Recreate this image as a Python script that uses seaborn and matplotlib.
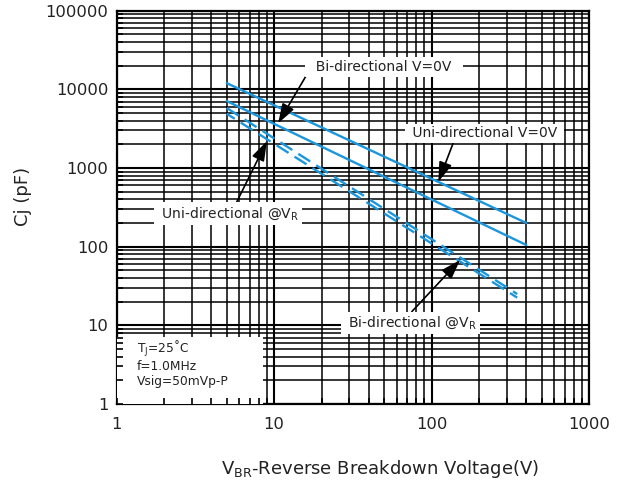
import numpy as np
import matplotlib
matplotlib.use("Agg")
import matplotlib.pyplot as plt
import seaborn as sns
from matplotlib.ticker import LogLocator, FixedLocator, FixedFormatter, NullFormatter
from matplotlib.patches import Rectangle

# ---- data ----
vbr_solid = [5, 400]
cj_uni_0v = [12000, 200]
cj_bi_0v = [7100, 105]
vbr_dashed = [5, 350]
cj_uni_vr = [5800, 25]
cj_bi_vr = [4900, 22.5]

x_ticks = [1, 10, 100, 1000]
x_tick_labels = ["1", "10", "100", "1000"]
y_ticks = [1, 10, 100, 1000, 10000, 100000]
y_tick_labels = ["1", "10", "100", "1000", "10000", "100000"]

line_color = "#1b96dc"
text_color = "#222222"

sns.set_theme(style="white")
plt.rcParams['font.family'] = ['DejaVu Sans']
plt.rcParams['mathtext.default'] = 'regular'

fig = plt.figure(figsize=(6.25, 4.8), dpi=100)
fig.patch.set_facecolor("white")
ax = fig.add_axes([0.1867, 0.1583, 0.7557, 0.8194])
ax.set_facecolor("white")
ax.set_xscale("log")
ax.set_yscale("log")

sns.lineplot(x=vbr_solid, y=cj_uni_0v, ax=ax, color=line_color, lw=1.7, zorder=3)
sns.lineplot(x=vbr_solid, y=cj_bi_0v, ax=ax, color=line_color, lw=1.7, zorder=3)
sns.lineplot(x=vbr_dashed, y=cj_uni_vr, ax=ax, color=line_color, lw=1.7,
             linestyle=(0, (6, 3)), zorder=3)
sns.lineplot(x=vbr_dashed, y=cj_bi_vr, ax=ax, color=line_color, lw=1.7,
             linestyle=(2, (6, 3)), zorder=3)

ax.set_xlim(1, 1000)
ax.set_ylim(1, 100000)
ax.xaxis.set_major_locator(FixedLocator(x_ticks))
ax.xaxis.set_major_formatter(FixedFormatter(x_tick_labels))
ax.yaxis.set_major_locator(FixedLocator(y_ticks))
ax.yaxis.set_major_formatter(FixedFormatter(y_tick_labels))
ax.xaxis.set_minor_locator(LogLocator(base=10, subs=np.arange(2, 10)))
ax.yaxis.set_minor_locator(LogLocator(base=10, subs=np.arange(2, 10)))
ax.xaxis.set_minor_formatter(NullFormatter())
ax.yaxis.set_minor_formatter(NullFormatter())
ax.set_axisbelow(True)
ax.grid(True, which="major", color="black", lw=1.5)
ax.grid(True, which="minor", color="black", lw=1.1)
ax.tick_params(which="both", length=0)
ax.tick_params(axis="x", pad=9, labelsize=11.8, labelcolor=text_color)
ax.tick_params(axis="y", pad=6, labelsize=11.8, labelcolor=text_color)
for s in ax.spines.values():
    s.set_visible(True)
    s.set_color("black")
    s.set_linewidth(1.6)

ax.set_xlabel(r"V$_{BR}$-Reverse Breakdown Voltage(V)", fontsize=13, color=text_color)
ax.xaxis.label.set_va("center")
ax.xaxis.set_label_coords(0.557, -0.165)
ax.set_ylabel("Cj (pF)", fontsize=13, color=text_color)
ax.yaxis.label.set_va("center")
ax.yaxis.set_label_coords(-0.198, 0.5276)

# conditions box (bottom-left)
ax.add_patch(Rectangle((0, 0), 0.31, 0.17, transform=ax.transAxes,
                       facecolor="white", edgecolor="none", zorder=4))
cond_lines = [r"T$_J$=25˚C", "f=1.0MHz", "Vsig=50mVp-P"]
cond_y = [0.140, 0.096, 0.056]
for t, yy in zip(cond_lines, cond_y):
    ax.text(0.043, yy, t, transform=ax.transAxes, fontsize=8.8, va="center",
            ha="left", color=text_color, zorder=5)

# overlay axes for inward ticks (visible under the white box)
ax2 = fig.add_axes(ax.get_position())
ax2.set_xscale("log")
ax2.set_yscale("log")
ax2.set_xlim(1, 1000)
ax2.set_ylim(1, 100000)
ax2.patch.set_visible(False)
ax2.xaxis.set_minor_locator(LogLocator(base=10, subs=np.arange(2, 10)))
ax2.yaxis.set_minor_locator(LogLocator(base=10, subs=np.arange(2, 10)))
ax2.tick_params(which="both", direction="in", length=4, width=1.2, color="black",
                labelbottom=False, labelleft=False, bottom=True, left=True)
ax2.xaxis.set_minor_formatter(NullFormatter())
ax2.yaxis.set_minor_formatter(NullFormatter())
for s in ax2.spines.values():
    s.set_visible(False)
ax2.grid(False)
ax2.set_zorder(ax.get_zorder() + 1)

# annotations
arrow = dict(arrowstyle="-|>,head_length=0.6,head_width=0.2", color="black",
             lw=1.2, mutation_scale=20, shrinkA=0, shrinkB=0)
bbox = dict(boxstyle="square,pad=0.2", fc="white", ec="none")

ax.annotate("  Bi-directional V=0V  ", xy=(10.6, 3700), xytext=(49.8, 19400),
            ha="center", va="center", fontsize=10, color=text_color, bbox=bbox,
            arrowprops=dict(arrow, relpos=(0.0, 0.0)), zorder=6)
ax.annotate(" Uni-directional V=0V ", xy=(110.5, 670), xytext=(216.8, 2760),
            ha="center", va="center", fontsize=10, color=text_color, bbox=bbox,
            arrowprops=dict(arrow, relpos=(0.31, 0.2)), zorder=6)
ax.annotate(r" Uni-directional @V$_R$ ", xy=(9.0, 2200), xytext=(5.1, 265),
            ha="center", va="center", fontsize=10, color=text_color, bbox=bbox,
            arrowprops=dict(arrow, relpos=(0.55, 1.0)), zorder=6)
ax.annotate(r" Bi-directional @V$_R$ ", xy=(151.8, 67.7), xytext=(73.6, 10.8),
            ha="center", va="center", fontsize=10, color=text_color, bbox=bbox,
            arrowprops=dict(arrow, relpos=(0.49, 1.0)), zorder=6)

fig.savefig("out.png", dpi=100, facecolor="white")
